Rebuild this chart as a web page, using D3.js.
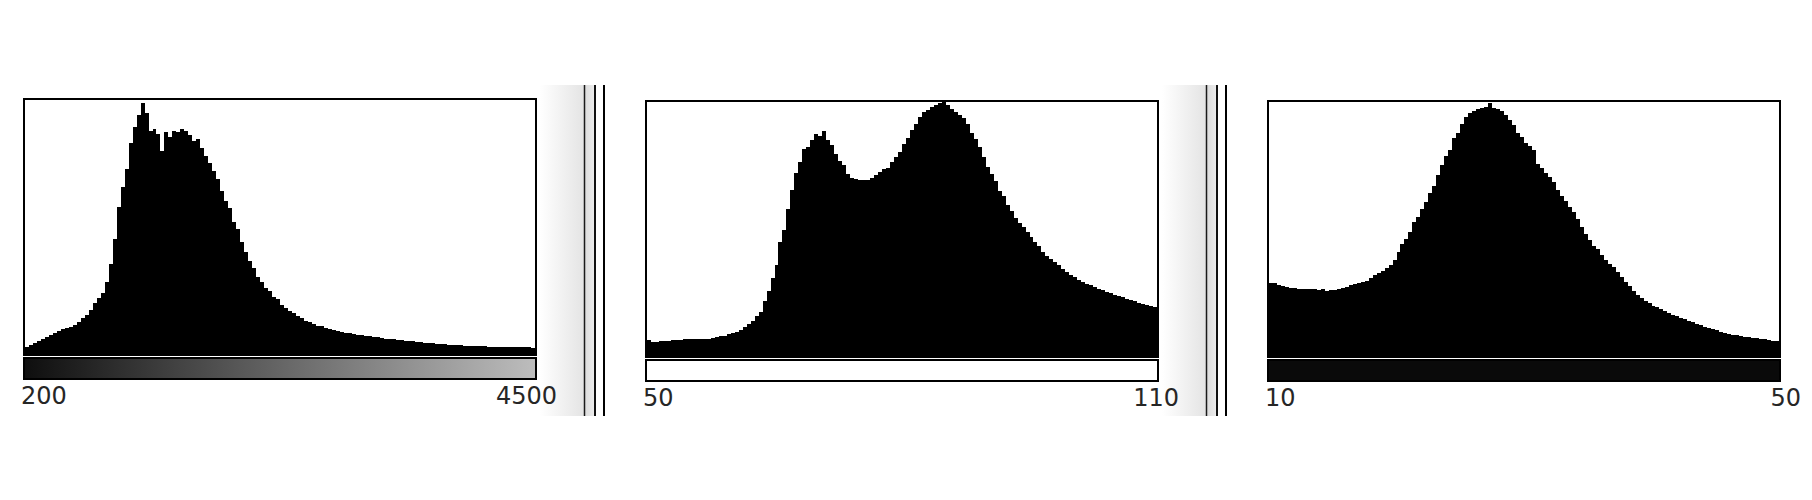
<!DOCTYPE html>
<html lang="en">
<head>
<meta charset="utf-8">
<title>Channel histograms</title>
<script src="https://d3js.org/d3.v7.min.js"></script>
<style>
  body { margin: 0; background: #fff; }
  .lbl { font-family: "DejaVu Sans", sans-serif; font-size: 24px; fill: #262626; }
</style>
</head>
<body>
<div id="chart"></div>
<script>
// value range shown under each histogram
var rangeLabels = [["200", "4500"], ["50", "110"], ["10", "50"]];

// bin heights (1000 = full box height), 128 bins each
var counts1 = [33,40,48,56,63,72,80,88,96,101,106,110,118,130,144,158,
  178,202,222,242,285,356,455,580,660,730,830,895,940,990,950,880,
  885,865,800,875,855,880,875,885,878,862,840,848,812,780,752,720,
  692,645,604,578,520,495,445,405,368,340,305,288,262,250,228,218,
  195,186,172,165,153,146,134,128,120,115,112,107,102,98,94,91,
  88,85,83,80,77,75,73,71,70,67,64,63,61,60,58,56,
  55,53,52,50,49,47,46,44,43,42,41,40,39,38,37,37,
  36,35,35,34,33,32,32,31,31,31,30,30,30,30,30,28];

var counts2 = [66,58,60,61,62,64,65,66,68,69,69,70,70,70,71,71,
  75,78,81,84,89,93,99,105,116,129,143,160,176,218,258,308,
  362,450,500,580,656,723,764,815,823,852,875,868,885,852,833,795,
  768,752,716,702,700,696,694,695,702,712,727,738,742,764,783,802,
  835,858,892,913,940,960,970,980,988,997,1000,988,972,962,950,937,
  912,880,855,822,784,744,716,690,652,632,598,573,546,527,508,490,
  470,450,436,411,398,385,372,359,346,333,323,313,303,295,288,281,
  275,268,262,256,250,244,238,234,229,223,218,213,209,204,201,196];

var counts3 = [292,289,284,278,274,271,270,268,267,266,266,265,264,265,260,262,
  263,267,272,276,282,287,292,296,300,310,320,331,338,350,360,380,
  410,445,462,490,530,548,580,606,645,670,712,752,790,812,860,880,
  912,940,955,965,972,975,980,995,976,972,966,948,930,908,878,862,
  840,826,812,755,740,722,704,686,655,630,612,590,567,540,510,484,
  457,435,422,400,380,366,352,334,312,294,280,258,244,233,220,210,
  201,195,188,181,173,166,160,154,148,142,136,130,124,118,114,109,
  104,100,96,92,88,85,83,80,77,75,73,71,69,67,64,62];

var W = 1812, H = 500;
var pw = 514, ph = 257;

var panels = [
  { left: 23,   top: 98,  counts: counts1, bar: "grad",  deco: true },
  { left: 645,  top: 100, counts: counts2, bar: "white", deco: true },
  { left: 1267, top: 100, counts: counts3, bar: "black", deco: false }
];

var svg = d3.select("#chart").append("svg")
    .attr("width", W)
    .attr("height", H);

var defs = svg.append("defs");

function hGrad(id, stops) {
  var g = defs.append("linearGradient").attr("id", id)
      .attr("x1", "0%").attr("x2", "100%").attr("y1", "0%").attr("y2", "0%");
  stops.forEach(function(s) {
    g.append("stop").attr("offset", s[0]).attr("stop-color", s[1]);
  });
}
hGrad("cbar", [["0%", "#0e0e0e"], ["100%", "#bdbdbd"]]);
hGrad("shade", [["0%", "#ffffff"], ["100%", "#e4e4e4"]]);
hGrad("band", [["0%", "#dcdcdc"], ["100%", "#ececec"]]);

panels.forEach(function(p, k) {
  var g = svg.append("g");
  var bottom = p.top + ph;
  var n = p.counts.length;

  // bins across the inside of the box
  var x = d3.scaleLinear().domain([0, n]).range([p.left + 2, p.left + pw - 2]);
  var y = d3.scaleLinear().domain([0, 1000]).range([bottom, p.top + 2]);

  // right-hand window decoration (shade + double rule)
  if (p.deco) {
    var r = p.left + pw;
    g.append("rect").attr("x", r + 3).attr("y", 85)
      .attr("width", 44).attr("height", 331).attr("fill", "url(#shade)");
    g.append("rect").attr("x", r + 48).attr("y", 85)
      .attr("width", 9).attr("height", 331).attr("fill", "url(#band)");
    [[r + 47.5, 1.5, "#1a1a1a"], [r + 58, 2, "#111"], [r + 67, 2, "#000"]].forEach(function(l) {
      g.append("line").attr("x1", l[0]).attr("x2", l[0]).attr("y1", 85).attr("y2", 416)
        .attr("stroke", l[2]).attr("stroke-width", l[1]);
    });
  }

  // histogram as one stepped area
  var pts = p.counts.map(function(v, i) { return [i, v]; });
  pts.push([n, p.counts[n - 1]]);
  var area = d3.area()
      .x(function(d) { return x(d[0]); })
      .y0(bottom)
      .y1(function(d) { return y(d[1]); })
      .curve(d3.curveStepAfter);
  g.append("path").datum(pts)
    .attr("d", area)
    .attr("fill", "#000")
    .attr("shape-rendering", "crispEdges");

  // box
  g.append("rect")
    .attr("x", p.left + 1).attr("y", p.top + 1)
    .attr("width", pw - 2).attr("height", ph - 1)
    .attr("fill", "none").attr("stroke", "#000").attr("stroke-width", 2);

  // colour bar
  var fill = p.bar === "grad" ? "url(#cbar)" : (p.bar === "white" ? "#fff" : "#0a0a0a");
  g.append("rect")
    .attr("x", p.left + 1).attr("y", bottom + 3)
    .attr("width", pw - 2).attr("height", 21)
    .attr("fill", fill).attr("stroke", "#000").attr("stroke-width", 2);

  // range labels
  g.append("text").attr("class", "lbl")
    .attr("x", p.left - 2).attr("y", bottom + 49)
    .attr("text-anchor", "start")
    .text(rangeLabels[k][0]);
  g.append("text").attr("class", "lbl")
    .attr("x", p.left + pw + 20).attr("y", bottom + 49)
    .attr("text-anchor", "end")
    .text(rangeLabels[k][1]);
});
</script>
</body>
</html>
